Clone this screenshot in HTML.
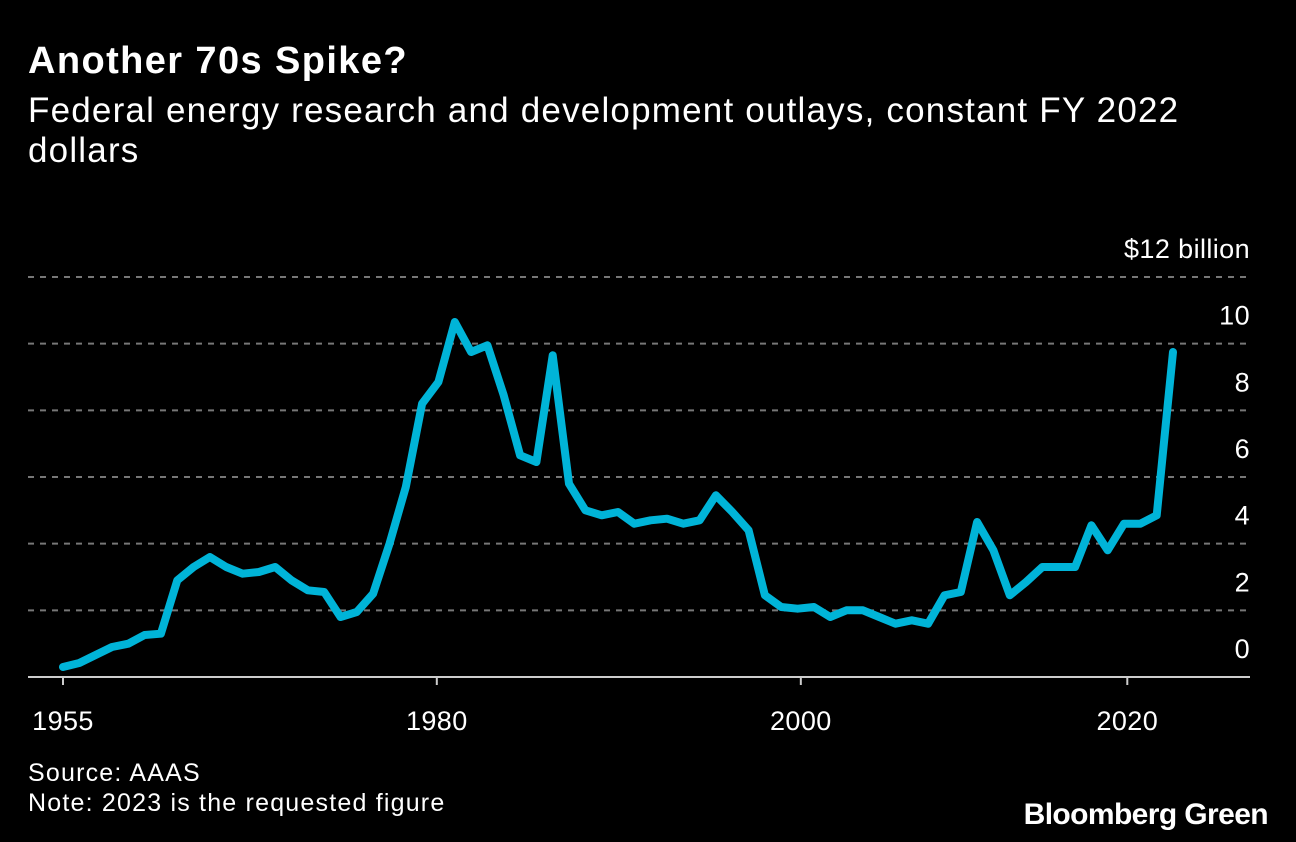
<!DOCTYPE html>
<html><head><meta charset="utf-8"><style>
html,body{margin:0;padding:0;background:#000;}
body{width:1296px;height:842px;position:relative;overflow:hidden;font-family:"Liberation Sans",Arial,sans-serif;color:#fff;}
.t{position:absolute;left:28px;}
</style></head><body>
<div class="t" style="top:40px;font-size:38px;font-weight:bold;letter-spacing:1.4px;">Another 70s Spike?</div>
<div class="t" style="top:91px;font-size:35px;line-height:40px;width:1200px;letter-spacing:1.2px;">Federal energy research and development outlays, constant FY 2022 dollars</div>
<svg id="chart" width="1296" height="842" style="position:absolute;left:0;top:0"></svg>
<div class="t" style="top:758px;font-size:25px;line-height:30px;letter-spacing:1.2px;">Source: AAAS<br>Note: 2023 is the requested figure</div>
<div style="position:absolute;right:28px;top:798px;font-size:30px;font-weight:bold;letter-spacing:-0.6px;">Bloomberg Green</div>
<script>
const years=[];for(let y=1955;y<=2023;y++)years.push(y);
const values=[0.3,0.42,0.66,0.9,1.0,1.26,1.3,2.9,3.3,3.6,3.3,3.1,3.15,3.3,2.9,2.6,2.55,1.8,1.95,2.5,4.0,5.7,8.2,8.85,10.65,9.75,9.95,8.45,6.65,6.45,9.65,5.8,5.0,4.85,4.95,4.6,4.7,4.75,4.6,4.7,5.45,4.95,4.4,2.45,2.1,2.05,2.1,1.8,2.0,2.0,1.8,1.6,1.7,1.6,2.45,2.55,4.65,3.8,2.45,2.85,3.3,3.3,3.3,4.55,3.8,4.6,4.6,4.85,9.75];
const yTicks=[0,2,4,6,8,10,12];
const yTickLabels=["0","2","4","6","8","10","$12 billion"];
const xTickYears=[1955,1977.9,2000.2,2020.2];
const xTickLabels=["1955","1980","2000","2020"];
const NS="http://www.w3.org/2000/svg";
const svg=document.getElementById('chart');
const x=v=>63+(v-1955)*(1173-63)/68;
const y=v=>677-v*(677-277)/12;
function mk(tag,attrs){const e=document.createElementNS(NS,tag);for(const k in attrs)e.setAttribute(k,attrs[k]);svg.appendChild(e);return e;}
yTicks.forEach((t,i)=>{
  if(t>0){const g=mk('line',{x1:28,x2:1250,y1:y(t),y2:y(t),stroke:'#777','stroke-width':2,'stroke-dasharray':'6,6'});
  
  }
  const l=mk('text',{x:1250,y:y(t)-19,'text-anchor':'end',fill:'#fff','font-size':27,'letter-spacing':'0.4','font-family':'Liberation Sans, Arial, sans-serif'});
  l.textContent=yTickLabels[i];
  
  
});
const base=mk('line',{x1:28,x2:1250,y1:y(0),y2:y(0),stroke:'#ccc','stroke-width':2});


xTickYears.forEach((v,i)=>{
  const tk=mk('line',{x1:x(v),x2:x(v),y1:y(0),y2:y(0)+8,stroke:'#ccc','stroke-width':2});
  
  
  const l=mk('text',{x:x(v),y:730,'text-anchor':'middle',fill:'#fff','font-size':27,'letter-spacing':'0.4','font-family':'Liberation Sans, Arial, sans-serif'});
  l.textContent=xTickLabels[i];
  
  
});
const d=years.map((yr,i)=>(i?'L':'M')+x(yr).toFixed(1)+','+y(values[i]).toFixed(1)).join(' ');
const p=mk('path',{d:d,fill:'none',stroke:'#00b4d8','stroke-width':8,'stroke-linejoin':'round','stroke-linecap':'round'});


</script>
</body></html>
